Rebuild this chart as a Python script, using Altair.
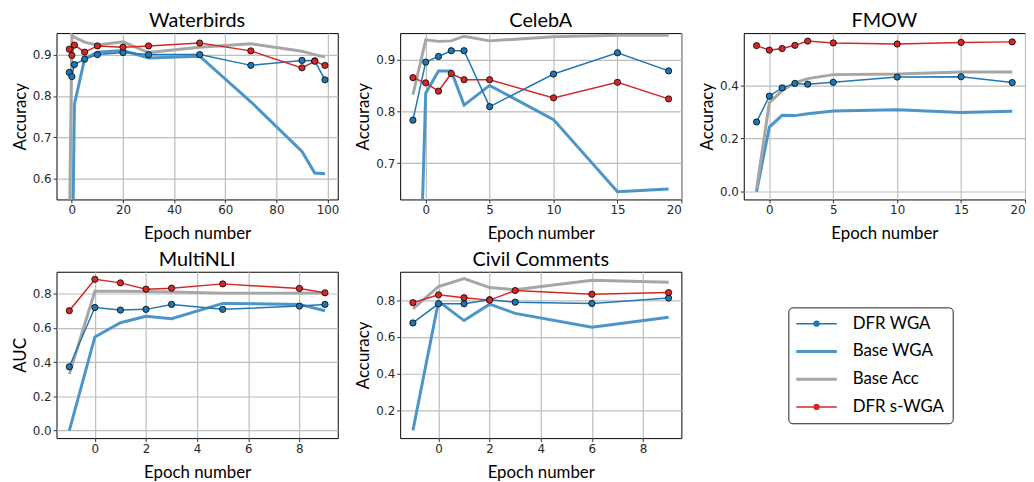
import altair as alt
import pandas as pd

# ---------------- data ----------------
SERIES = ["DFR WGA", "Base WGA", "Base Acc", "DFR s-WGA"]
COLORS = ["#1f77b4", "#4b95c8", "#a6a6a6", "#d62728"]
# keys for the overlaid legend layers (thin lines / thick lines / markers)
DFR_LINE_COLORS = ["#1f77b4", "transparent", "transparent", "#d62728"]
BASE_KEYS = ["b:DFR WGA", "b:Base WGA", "b:Base Acc", "b:DFR s-WGA"]
BASE_LINE_COLORS = ["transparent", "#4b95c8", "#a6a6a6", "transparent"]
MARK_KEYS = ["m:DFR WGA", "m:Base WGA", "m:Base Acc", "m:DFR s-WGA"]
MARKER_SHAPES = ["circle", "M0,0", "M0,0", "circle"]

# Waterbirds
wb_epoch = [-1, 0, 1, 5, 10, 20, 30, 50, 70, 90, 95, 99]
wb_dfr_wga = [0.857, 0.847, 0.876, 0.889, 0.900, 0.905, 0.900, 0.900, 0.874, 0.886, 0.885, 0.839]
wb_base_wga = [0.0, 0.30, 0.780, 0.890, 0.906, 0.910, 0.892, 0.896, 0.786, 0.666, 0.614, 0.612]
wb_base_acc = [0.45, 0.947, 0.942, 0.930, 0.923, 0.931, 0.905, 0.918, 0.926, 0.908, 0.900, 0.894]
wb_dfr_swga = [0.913, 0.898, 0.923, 0.906, 0.921, 0.918, 0.921, 0.928, 0.909, 0.868, 0.884, 0.874]

# CelebA
ca_epoch = [-1, 0, 1, 2, 3, 5, 10, 15, 19]
ca_dfr_wga = [0.783, 0.895, 0.906, 0.917, 0.917, 0.809, 0.872, 0.913, 0.878]
ca_base_wga = [0.0, 0.835, 0.878, 0.878, 0.812, 0.850, 0.784, 0.645, 0.650]
ca_base_acc = [0.832, 0.938, 0.935, 0.936, 0.945, 0.936, 0.944, 0.947, 0.947]
ca_dfr_swga = [0.865, 0.855, 0.839, 0.873, 0.861, 0.861, 0.826, 0.856, 0.824]

# FMOW
fm_epoch = [-1, 0, 1, 2, 3, 5, 10, 15, 19]
fm_dfr_wga = [0.262, 0.359, 0.390, 0.407, 0.404, 0.411, 0.431, 0.432, 0.410]
fm_base_wga = [0.0, 0.243, 0.287, 0.286, 0.293, 0.303, 0.308, 0.298, 0.302]
fm_base_acc = [0.011, 0.334, 0.380, 0.409, 0.425, 0.440, 0.442, 0.450, 0.450]
fm_dfr_swga = [0.549, 0.532, 0.538, 0.550, 0.566, 0.559, 0.555, 0.561, 0.563]

# MultiNLI
mn_epoch = [-1, 0, 1, 2, 3, 5, 8, 9]
mn_dfr_wga = [0.373, 0.720, 0.705, 0.709, 0.738, 0.709, 0.728, 0.738]
mn_base_wga = [0.0, 0.548, 0.631, 0.668, 0.654, 0.744, 0.738, 0.701]
mn_base_acc = [0.33, 0.815, 0.815, 0.813, 0.810, 0.804, 0.804, 0.804]
mn_dfr_swga = [0.701, 0.885, 0.864, 0.827, 0.833, 0.858, 0.831, 0.806]

# Civil Comments
cc_epoch = [-1, 0, 1, 2, 3, 6, 9]
cc_dfr_wga = [0.676, 0.780, 0.780, 0.802, 0.789, 0.782, 0.811]
cc_base_wga = [0.093, 0.793, 0.689, 0.778, 0.728, 0.653, 0.707]
cc_base_acc = [0.752, 0.874, 0.917, 0.868, 0.856, 0.908, 0.897]
cc_dfr_swga = [0.786, 0.829, 0.813, 0.800, 0.852, 0.832, 0.841]

W, H = 284, 168
LEG_X, LEG_Y = 739, 277

common_leg = dict(
    title=None, orient="none", legendX=LEG_X, legendY=LEG_Y, direction="vertical",
    symbolOffset=12, labelOffset=28, labelFont="Lato", labelFontSize=17,
    rowPadding=10, padding=8,
)

legend_dfr_lines = alt.Legend(
    symbolType="M-4.1,0H4.1", symbolSize=100, symbolStrokeWidth=1.5,
    labelColor="black", strokeColor="#222222", cornerRadius=4,
    **common_leg,
)
legend_base_lines = alt.Legend(
    symbolType="M-4.1,0H4.1", symbolSize=100, symbolStrokeWidth=3,
    labelExpr="' '", labelColor="transparent", **common_leg,
)
legend_marks = alt.Legend(
    symbolSize=40, symbolStrokeColor="black", symbolStrokeWidth=0.8,
    labelExpr="' '", labelColor="transparent", **common_leg,
)


def panel(title, ytitle, epoch, dfr_wga, base_wga, base_acc, dfr_swga,
          xdom, ydom, xticks, yticks):
    rows = []
    for name, bk, mk, vals in zip(SERIES, BASE_KEYS, MARK_KEYS,
                                  [dfr_wga, base_wga, base_acc, dfr_swga]):
        for e, v in zip(epoch, vals):
            rows.append({"epoch": e, "value": v, "series": name, "bk": bk, "mk": mk})
    df = pd.DataFrame(rows)

    x = alt.X("epoch:Q", scale=alt.Scale(domain=xdom, nice=False, zero=False),
              axis=alt.Axis(values=xticks, format="d", title="Epoch number"))
    y = alt.Y("value:Q", scale=alt.Scale(domain=ydom, nice=False, zero=False),
              axis=alt.Axis(values=yticks, format=".1f", title=ytitle))

    base = alt.Chart(df).encode(x=x, y=y)
    base_lines = base.transform_filter(
        alt.FieldOneOfPredicate(field="series", oneOf=["Base WGA", "Base Acc"])
    ).mark_line(clip=True, strokeWidth=3).encode(
        stroke=alt.Stroke("bk:N", scale=alt.Scale(domain=BASE_KEYS, range=BASE_LINE_COLORS),
                          legend=legend_base_lines)
    )
    dfr_lines = base.transform_filter(
        alt.FieldOneOfPredicate(field="series", oneOf=["DFR WGA", "DFR s-WGA"])
    ).mark_line(clip=True, strokeWidth=1.5).encode(
        color=alt.Color("series:N", scale=alt.Scale(domain=SERIES, range=DFR_LINE_COLORS),
                        legend=legend_dfr_lines)
    )
    pts = base.transform_filter(
        alt.FieldOneOfPredicate(field="series", oneOf=["DFR WGA", "DFR s-WGA"])
    ).mark_point(filled=True, size=40, stroke="black", strokeWidth=0.8, opacity=1).encode(
        fill=alt.Fill("mk:N", scale=alt.Scale(domain=MARK_KEYS, range=COLORS), legend=legend_marks),
        shape=alt.Shape("mk:N", scale=alt.Scale(domain=MARK_KEYS, range=MARKER_SHAPES),
                        legend=legend_marks),
    )
    return alt.layer(base_lines, dfr_lines, pts).properties(
        width=W, height=H,
        title=alt.TitleParams(title, font="Lato", fontSize=20, fontWeight=400,
                              color="black", offset=2, anchor="middle"),
    )


wb = panel("Waterbirds", "Accuracy", wb_epoch, wb_dfr_wga, wb_base_wga, wb_base_acc, wb_dfr_swga,
           [-6, 104], [0.55, 0.952], [0, 20, 40, 60, 80, 100], [0.6, 0.7, 0.8, 0.9])
ca = panel("CelebA", "Accuracy", ca_epoch, ca_dfr_wga, ca_base_wga, ca_base_acc, ca_dfr_swga,
           [-2, 20], [0.63, 0.951], [0, 5, 10, 15, 20], [0.7, 0.8, 0.9])
fm = panel("FMOW", "Accuracy", fm_epoch, fm_dfr_wga, fm_base_wga, fm_base_acc, fm_dfr_swga,
           [-2, 20], [-0.029, 0.596], [0, 5, 10, 15, 20], [0.0, 0.2, 0.4])
mn = panel("MultiNLI", "AUC", mn_epoch, mn_dfr_wga, mn_base_wga, mn_base_acc, mn_dfr_swga,
           [-1.5, 9.5], [-0.044, 0.929], [0, 2, 4, 6, 8], [0.0, 0.2, 0.4, 0.6, 0.8])
cc = panel("Civil Comments", "Accuracy", cc_epoch, cc_dfr_wga, cc_base_wga, cc_base_acc, cc_dfr_swga,
           [-1.5, 9.5], [0.051, 0.954], [0, 2, 4, 6, 8], [0.2, 0.4, 0.6, 0.8])

chart = alt.concat(
    wb, ca, fm, mn, cc, columns=3, spacing={"row": 73, "column": 63}, bounds="flush"
).properties(
    padding={"left": 2, "top": 0, "right": 0, "bottom": 0}
).configure_axis(
    labelFont="DejaVu Sans", labelFontSize=12, labelColor="#262626", labelPadding=2,
    titleFont="Lato", titleFontSize=17, titleFontWeight="normal", titleColor="black",
    titlePadding=3,
    grid=True, gridColor="#bdbdbd", gridWidth=1.2,
    tickColor="black", tickSize=3.5, tickWidth=0.8, domain=False,
).configure_axisX(
    titlePadding=10
).configure_view(
    stroke="black", strokeWidth=1
).configure_title(
    fontWeight=400
)

chart.save("out.html", embed_options={"renderer": "svg", "actions": False})
